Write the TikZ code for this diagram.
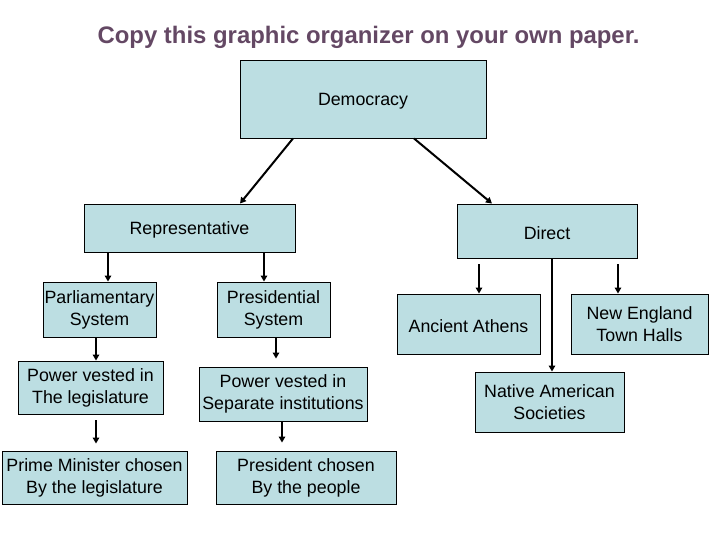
\documentclass[tikz,border=0pt]{standalone}
\usepackage{fontspec}
\setmainfont{Liberation Sans}
\usetikzlibrary{arrows.meta,calc}
\definecolor{boxfill}{RGB}{188,222,226}
\definecolor{titlecol}{RGB}{100,72,100}
\tikzset{
  box/.style={draw=black, line width=0.9pt, fill=boxfill, inner sep=0pt, align=center,
    font=\fontsize{17.8}{22}\selectfont, execute at begin node={\rule{0pt}{17pt}}},
  conn/.style={line width=2pt, -{Triangle[length=6pt,width=6.5pt]}},
}
\begin{document}
\begin{tikzpicture}[x=1pt,y=-1pt]
\useasboundingbox (0,0) rectangle (720,540);
\node[font=\bfseries\fontsize{23.9}{28}\selectfont, text=titlecol] (title) at (368.5,37) {Copy this graphic organizer on your own paper.};

\node[box, minimum width=246pt, minimum height=78pt] (dem) at (363,99) {Democracy};
\node[box, minimum width=211pt, minimum height=48pt] (rep) at (189.5,228) {Representative};
\node[box, minimum width=180pt, minimum height=54pt] (dir) at (547,231) {Direct};

\node[box, minimum width=113pt, minimum height=55pt] (par) at (99.5,309.5) {Parliamentary\\System};
\node[box, minimum width=113pt, minimum height=55pt] (pres) at (273.5,309.5) {Presidential\\System};
\node[box, minimum width=145pt, minimum height=53pt] (pv1) at (90.5,387.5) {Power vested in\\The legislature};
\node[box, minimum width=168pt, minimum height=54pt] (sep) at (283,394) {Power vested in\\Separate institutions};
\node[box, minimum width=185pt, minimum height=53pt] (pm) at (94.5,477.5) {Prime Minister chosen\\By the legislature};
\node[box, minimum width=180pt, minimum height=53pt] (pc) at (306,477.5) {President chosen\\By the people};

\node[box, minimum width=143pt, minimum height=60pt] (ath) at (468.5,324) {Ancient Athens};
\node[box, minimum width=137pt, minimum height=60pt] (ne) at (639.5,324) {New England\\Town Halls};
\node[box, minimum width=149pt, minimum height=60pt] (nat) at (549.5,402) {Native American\\Societies};

\draw[conn] ($(dem.south)+(-70,0)$) -- ($(rep.north)+(50.5,0)$);
\draw[conn] ($(dem.south)+(51,0)$) -- ($(dir.north)+(-55,0)$);

\draw[conn] (rep.south -| 108,0) -- (par.north -| 108,0);
\draw[conn] (rep.south -| 264,0) -- (pres.north -| 264,0);
\draw[conn] (par.south -| 96,0) -- (pv1.north -| 96,0);
\draw[conn, shorten <=6pt, shorten >=7pt] (pv1.south -| 96,0) -- (pm.north -| 96,0);
\draw[conn, shorten >=8pt] (pres.south -| 276,0) -- (sep.north -| 276,0);
\draw[conn, shorten >=8pt] (sep.south -| 282,0) -- (pc.north -| 282,0);

\draw[conn, shorten <=6pt] (dir.south -| 479,0) -- (ath.north -| 479,0);
\draw[conn] (dir.south -| 552,0) -- (nat.north -| 552,0);
\draw[conn, shorten <=6pt] (dir.south -| 618,0) -- (ne.north -| 618,0);
\end{tikzpicture}
\end{document}
